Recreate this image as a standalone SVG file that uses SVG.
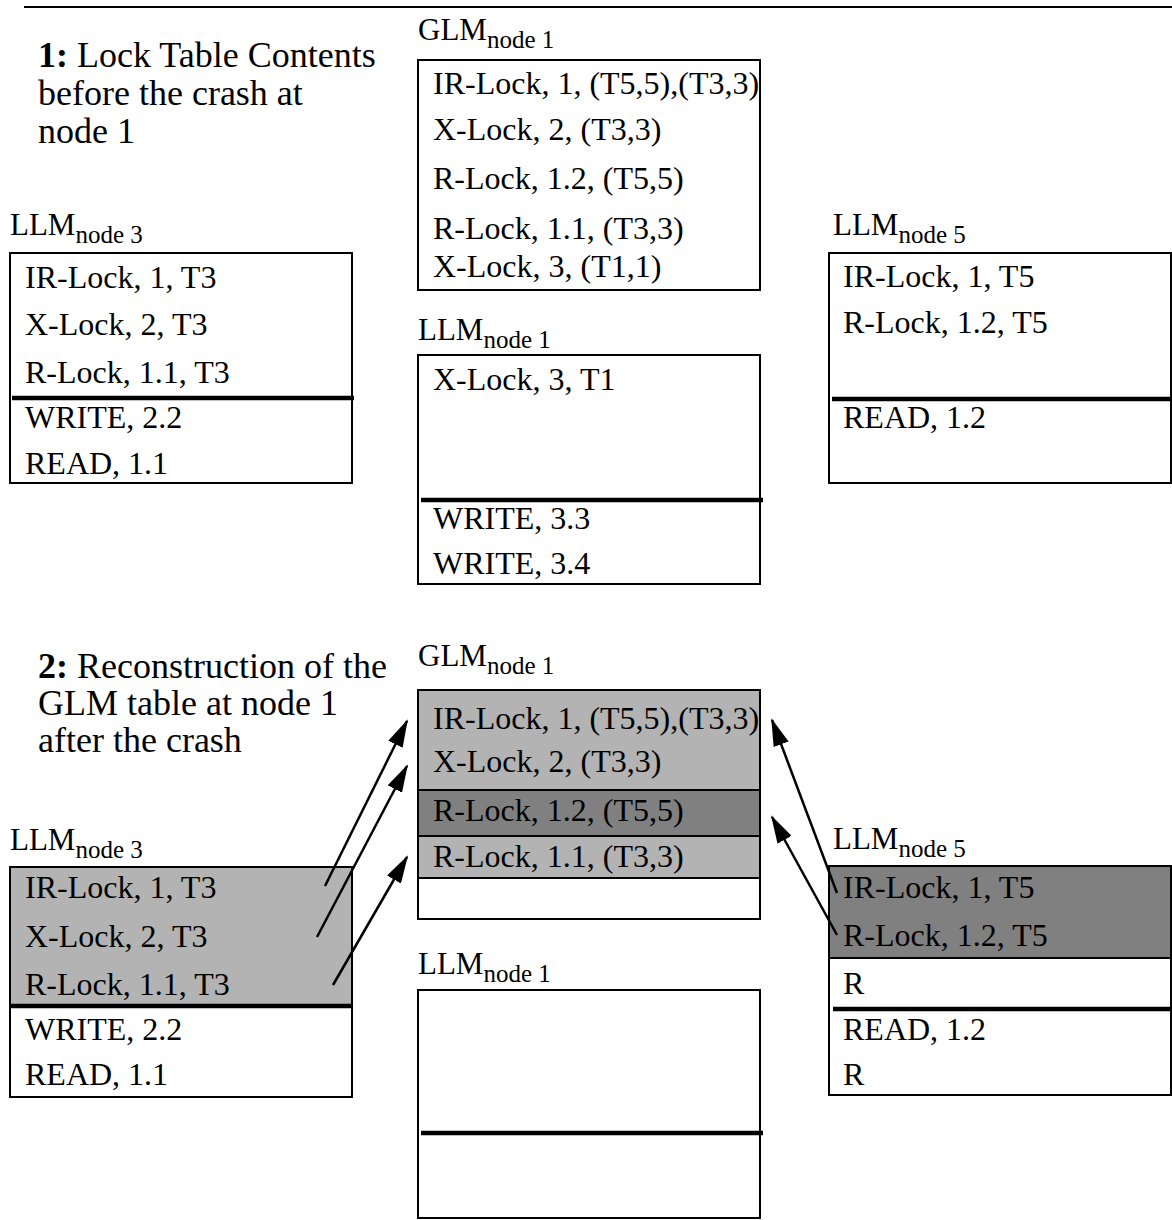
<svg xmlns="http://www.w3.org/2000/svg" width="1172" height="1220" viewBox="0 0 1172 1220">
  <style>
    .row, .title, .lbl { font-family: "Liberation Serif", "Times New Roman", "DejaVu Serif", serif; fill: #000; }
    .row { font-size: 32px; }
    .title { font-size: 36px; }
    .lbl { font-size: 31px; }
    .sub { font-size: 25px; }
    .box { fill: none; stroke: #000; stroke-width: 2; }
    .bg { fill: #fff; }
    .light { fill: #b3b3b3; }
    .dark { fill: #808080; }
    .sep { stroke: #000; stroke-width: 4.5; }
    .div { stroke: #000; stroke-width: 2; }
    .arrow { stroke: #000; stroke-width: 2.5; fill: none; marker-end: url(#head); }
  </style>
  <defs>
    <marker id="head" viewBox="0 0 28 16" markerWidth="28" markerHeight="16" refX="26" refY="8" orient="auto" markerUnits="userSpaceOnUse">
      <path d="M0,0 L28,8 L0,16 z" fill="#000"/>
    </marker>
  </defs>

  <rect x="0" y="0" width="1172" height="1220" fill="#fff"/>
  <line x1="24" y1="7" x2="1172" y2="7" stroke="#000" stroke-width="2"/>

  <!-- Part 1: tables before the crash -->
  <g id="title-1">
    <text class="title" x="38" y="67"><tspan font-weight="bold">1:</tspan> Lock Table Contents</text>
    <text class="title" x="38" y="105">before the crash at</text>
    <text class="title" x="38" y="143">node 1</text>
  </g>

  <g id="llm3-before">
    <text class="lbl" x="10" y="235">LLM<tspan class="sub" dy="8">node 3</tspan></text>
    <rect class="bg" x="10" y="253" width="342" height="230"/>
    <rect class="box" x="10" y="253" width="342" height="230"/>
    <line class="sep" x1="12" y1="398" x2="354" y2="398"/>
    <text class="row" x="25" y="288">IR-Lock, 1, T3</text>
    <text class="row" x="25" y="335">X-Lock, 2, T3</text>
    <text class="row" x="25" y="383">R-Lock, 1.1, T3</text>
    <text class="row" x="25" y="428">WRITE, 2.2</text>
    <text class="row" x="25" y="474">READ, 1.1</text>
  </g>

  <g id="glm1-before">
    <text class="lbl" x="418" y="40">GLM<tspan class="sub" dy="8">node 1</tspan></text>
    <rect class="bg" x="418" y="60" width="342" height="230"/>
    <rect class="box" x="418" y="60" width="342" height="230"/>
    <text class="row" x="433" y="94">IR-Lock, 1, (T5,5),(T3,3)</text>
    <text class="row" x="433" y="140">X-Lock, 2, (T3,3)</text>
    <text class="row" x="433" y="189">R-Lock, 1.2, (T5,5)</text>
    <text class="row" x="433" y="239">R-Lock, 1.1, (T3,3)</text>
    <text class="row" x="433" y="277">X-Lock, 3, (T1,1)</text>
  </g>

  <g id="llm1-before">
    <text class="lbl" x="418" y="340">LLM<tspan class="sub" dy="8">node 1</tspan></text>
    <rect class="bg" x="418" y="355" width="342" height="229"/>
    <rect class="box" x="418" y="355" width="342" height="229"/>
    <line class="sep" x1="421" y1="500" x2="763" y2="500"/>
    <text class="row" x="433" y="390">X-Lock, 3, T1</text>
    <text class="row" x="433" y="529">WRITE, 3.3</text>
    <text class="row" x="433" y="574">WRITE, 3.4</text>
  </g>

  <g id="llm5-before">
    <text class="lbl" x="833" y="235">LLM<tspan class="sub" dy="8">node 5</tspan></text>
    <rect class="bg" x="829" y="253" width="342" height="230"/>
    <rect class="box" x="829" y="253" width="342" height="230"/>
    <line class="sep" x1="832" y1="399" x2="1172" y2="399"/>
    <text class="row" x="843" y="287">IR-Lock, 1, T5</text>
    <text class="row" x="843" y="333">R-Lock, 1.2, T5</text>
    <text class="row" x="843" y="428">READ, 1.2</text>
  </g>

  <!-- Part 2: GLM table rebuilt from the surviving LLM tables -->
  <g id="title-2">
    <text class="title" x="38" y="678"><tspan font-weight="bold">2:</tspan> Reconstruction of the</text>
    <text class="title" x="38" y="715">GLM table at node 1</text>
    <text class="title" x="38" y="752">after the crash</text>
  </g>

  <g id="llm3-after">
    <text class="lbl" x="10" y="850">LLM<tspan class="sub" dy="8">node 3</tspan></text>
    <rect class="bg" x="10" y="867" width="342" height="230"/>
    <rect class="light" x="10" y="867" width="342" height="138"/>
    <rect class="box" x="10" y="867" width="342" height="230"/>
    <line class="sep" x1="10" y1="1006" x2="353" y2="1006"/>
    <text class="row" x="25" y="898">IR-Lock, 1, T3</text>
    <text class="row" x="25" y="947">X-Lock, 2, T3</text>
    <text class="row" x="25" y="995">R-Lock, 1.1, T3</text>
    <text class="row" x="25" y="1040">WRITE, 2.2</text>
    <text class="row" x="25" y="1085">READ, 1.1</text>
  </g>

  <g id="glm1-after">
    <text class="lbl" x="418" y="666">GLM<tspan class="sub" dy="8">node 1</tspan></text>
    <rect class="bg" x="418" y="690" width="342" height="229"/>
    <rect class="light" x="418" y="690" width="342" height="100"/>
    <rect class="dark" x="418" y="790" width="342" height="46"/>
    <rect class="light" x="418" y="836" width="342" height="42"/>
    <line class="div" x1="418" y1="790" x2="760" y2="790"/>
    <line class="div" x1="418" y1="836" x2="760" y2="836"/>
    <line class="div" x1="418" y1="878" x2="760" y2="878"/>
    <rect class="box" x="418" y="690" width="342" height="229"/>
    <text class="row" x="433" y="729">IR-Lock, 1, (T5,5),(T3,3)</text>
    <text class="row" x="433" y="772">X-Lock, 2, (T3,3)</text>
    <text class="row" x="433" y="821">R-Lock, 1.2, (T5,5)</text>
    <text class="row" x="433" y="867">R-Lock, 1.1, (T3,3)</text>
  </g>

  <g id="llm1-after">
    <text class="lbl" x="418" y="974">LLM<tspan class="sub" dy="8">node 1</tspan></text>
    <rect class="bg" x="418" y="990" width="342" height="228"/>
    <rect class="box" x="418" y="990" width="342" height="228"/>
    <line class="sep" x1="421" y1="1133" x2="763" y2="1133"/>
  </g>

  <g id="llm5-after">
    <text class="lbl" x="833" y="849">LLM<tspan class="sub" dy="8">node 5</tspan></text>
    <rect class="bg" x="829" y="866" width="342" height="229"/>
    <rect class="dark" x="829" y="866" width="342" height="92"/>
    <line class="div" x1="829" y1="958" x2="1172" y2="958"/>
    <rect class="box" x="829" y="866" width="342" height="229"/>
    <line class="sep" x1="833" y1="1009" x2="1172" y2="1009"/>
    <text class="row" x="843" y="898">IR-Lock, 1, T5</text>
    <text class="row" x="843" y="946">R-Lock, 1.2, T5</text>
    <text class="row" x="843" y="994">R</text>
    <text class="row" x="843" y="1040">READ, 1.2</text>
    <text class="row" x="843" y="1085">R</text>
  </g>

  <!-- lock entries sent to the rebuilt GLM -->
  <g id="connectors">
    <line class="arrow" x1="325" y1="886" x2="407" y2="721"/>
    <line class="arrow" x1="317" y1="937" x2="407" y2="766"/>
    <line class="arrow" x1="333" y1="985" x2="407" y2="857"/>
    <line class="arrow" x1="837" y1="893" x2="772" y2="720"/>
    <line class="arrow" x1="837" y1="935" x2="772" y2="817"/>
  </g>
</svg>
